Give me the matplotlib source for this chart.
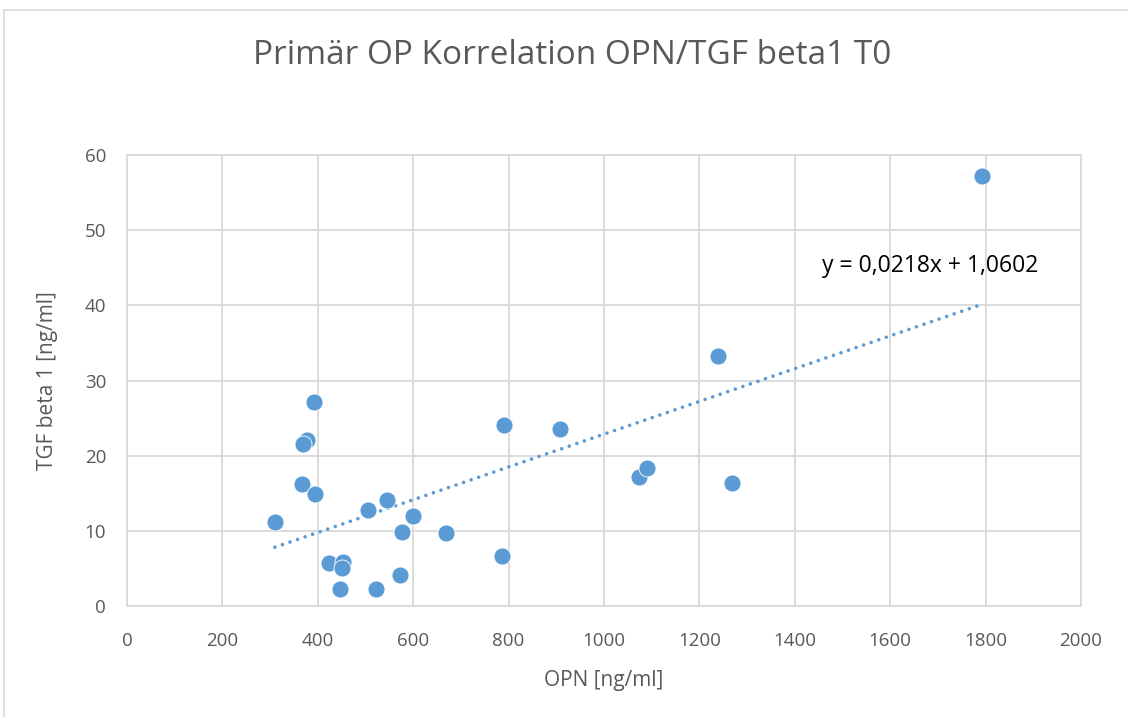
import matplotlib.pyplot as plt
from matplotlib.patches import Rectangle

plt.rcParams['font.family'] = ['Open Sans', 'DejaVu Sans']

# OPN vs TGF beta 1 values
opn = [391, 377, 368, 367, 394, 310, 505, 546, 600, 576, 669, 424, 453, 451,
       446, 521, 572, 790, 907, 1073, 1090, 1268, 786, 1239, 1792]
tgf = [27.2, 22.1, 21.5, 16.2, 14.9, 11.2, 12.8, 14.1, 12.0, 9.8, 9.7, 5.7, 5.8, 5.0,
       2.3, 2.3, 4.1, 24.1, 23.6, 17.2, 18.4, 16.4, 6.7, 33.3, 57.2]

# trendline from Excel
slope = 0.0218
intercept = 1.0602

blue = '#5b9bd5'
grey = '#595959'
gridc = '#d9d9d9'

fig = plt.figure(figsize=(11.28, 7.17), dpi=100)
ax = fig.add_axes([127/1128, 1 - 606/717, (1081 - 127)/1128, (606 - 155)/717])

# chart border
fig.patches.append(Rectangle((4/1128, -0.1), 1.2, 1 - 10/717 + 0.1, transform=fig.transFigure,
                             fill=False, edgecolor=gridc, linewidth=1.2))

xmin, xmax = min(opn), max(opn)
ax.plot([xmin, xmax], [slope*xmin + intercept, slope*xmax + intercept],
        linestyle=(0, (0.01, 2.2)), color=blue, linewidth=2.6, dash_capstyle='round', zorder=2)
ax.scatter(opn, tgf, s=150, color=blue, edgecolors='white', linewidths=0.6, zorder=3)

ax.set_xlim(0, 2000)
ax.set_ylim(0, 60)
ax.set_xticks(range(0, 2001, 200))
ax.set_yticks(range(0, 61, 10))
ax.grid(True, color=gridc, linewidth=1.3)
ax.set_axisbelow(True)
for s in ax.spines.values():
    s.set_color(gridc)
    s.set_linewidth(1.3)
ax.tick_params(length=0, colors=grey, labelsize=13.5)
ax.tick_params(axis='x', pad=19)
ax.tick_params(axis='y', pad=15)

ax.set_xlabel('OPN [ng/ml]', color=grey, fontsize=15, labelpad=14)
ax.set_ylabel('TGF beta 1 [ng/ml]', color=grey, fontsize=15, labelpad=19)
fig.text(572/1128, 1 - 55/717, 'Primär OP Korrelation OPN/TGF beta1 T0', color=grey,
         fontsize=24, ha='center', va='center')

ax.text(1457, 45.2, 'y = 0,0218x + 1,0602', fontsize=16.5, color='black', va='center')

fig.savefig('out.png', dpi=100)
